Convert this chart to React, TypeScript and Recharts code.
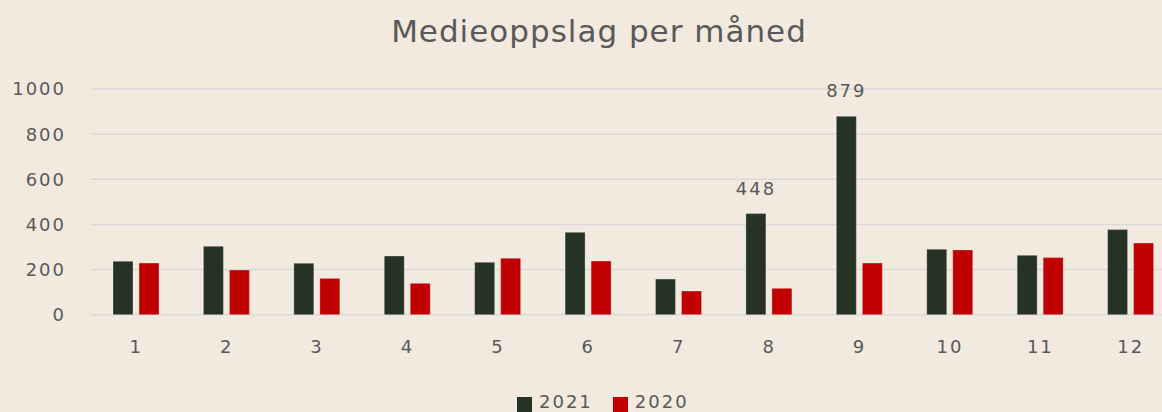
import React from 'react';
import { BarChart, Bar, XAxis, YAxis, CartesianGrid, Legend, LabelList } from 'recharts';

const months = ['1', '2', '3', '4', '5', '6', '7', '8', '9', '10', '11', '12'];
const values2021 = [237, 303, 228, 260, 232, 365, 158, 448, 879, 290, 263, 377];
const values2020 = [229, 198, 161, 139, 250, 238, 105, 117, 229, 287, 253, 318];
const yTicks = [0, 200, 400, 600, 800, 1000];
const labeledMonths = ['8', '9'];
const seriesOrder = ['2021', '2020'];
const title = 'Medieoppslag per måned';

const data = months.map((m, i) => ({ month: m, y2021: values2021[i], y2020: values2020[i] }));

const BG = '#F2EADF';
const DARK = '#253224';
const RED = '#C00000';
const TEXT = '#595959';
const FONT = '"DejaVu Sans", sans-serif';

const tickStyle = { fontFamily: FONT, fontSize: 18, fill: TEXT, letterSpacing: 2 };

const renderLabel = (props: any) => {
  const { x, y, width, value, index } = props;
  if (!labeledMonths.includes(months[index])) return null;
  return (
    <text
      x={Number(x) + Number(width) / 2}
      y={Number(y) - 19}
      textAnchor="middle"
      fill={TEXT}
      style={{ fontFamily: FONT, fontSize: 18, letterSpacing: 2 }}
    >
      {value}
    </text>
  );
};

const renderLegend = (props: any) => {
  const payload = [...(props.payload || [])].sort(
    (a: any, b: any) => seriesOrder.indexOf(String(a.value)) - seriesOrder.indexOf(String(b.value))
  );
  return (
    <div style={{ display: 'flex', alignItems: 'flex-start', fontFamily: FONT, fontSize: 18, color: TEXT, letterSpacing: 2 }}>
      {payload.map((p: any, i: number) => (
        <div key={i} style={{ display: 'flex', alignItems: 'flex-start', marginRight: 20 }}>
          <div style={{ width: 15, height: 15, background: p.color, marginTop: 2, marginRight: 7 }} />
          <span style={{ lineHeight: '18px', marginTop: -2 }}>{p.value}</span>
        </div>
      ))}
    </div>
  );
};

export default function App() {
  return (
    <div style={{ position: 'fixed', left: 0, top: 0, width: 1162, height: 412, overflow: 'hidden', background: BG }}>
      <div
        style={{
          position: 'absolute',
          left: 0,
          width: 1198,
          top: 11,
          textAlign: 'center',
          fontFamily: FONT,
          fontSize: 31,
          letterSpacing: 1,
          color: TEXT,
          lineHeight: '40px',
        }}
      >
        {title}
      </div>
      <BarChart
        width={1176}
        height={412}
        data={data}
        margin={{ top: 89, right: 0, bottom: 57.3, left: 0 }}
        barSize={20}
        barGap={6}
      >
        <CartesianGrid vertical={false} stroke="#D9D9D9" strokeWidth={1.5} />
        <XAxis dataKey="month" axisLine={false} tickLine={false} tickSize={0} tickMargin={26} height={40} tick={tickStyle} />
        <YAxis
          domain={[0, 1000]}
          ticks={yTicks}
          axisLine={false}
          tickLine={false}
          tickSize={0}
          tickMargin={25}
          width={91}
          tick={tickStyle}
          interval={0}
        />
        <Legend
          verticalAlign="middle"
          align="center"
          layout="horizontal"
          content={renderLegend}
          wrapperStyle={{ top: 395, left: 517, width: 300, height: 20 }}
        />
        <Bar dataKey="y2021" name="2021" fill={DARK} stroke="#ffffff" strokeOpacity={0.3} strokeWidth={1} isAnimationActive={false}>
          <LabelList dataKey="y2021" content={renderLabel} />
        </Bar>
        <Bar dataKey="y2020" name="2020" fill={RED} stroke="#ffffff" strokeOpacity={0.3} strokeWidth={1} isAnimationActive={false} />
      </BarChart>
    </div>
  );
}
